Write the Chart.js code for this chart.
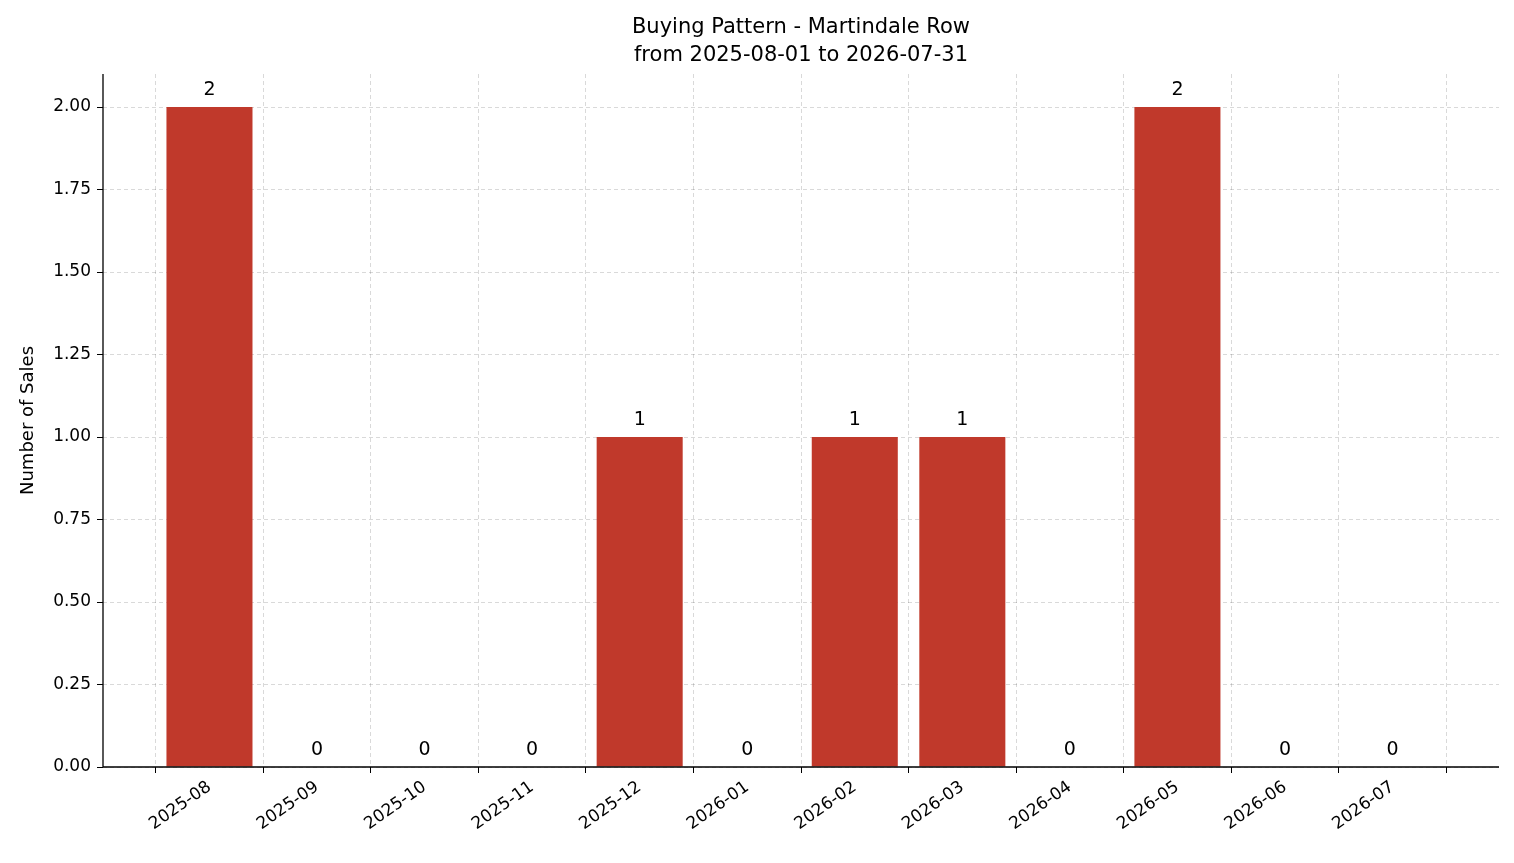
<!DOCTYPE html>
<html><head><meta charset="utf-8">
<script src="https://cdn.jsdelivr.net/npm/chart.js@4/dist/chart.umd.min.js"></script>
<style>html,body{margin:0;padding:0;background:#fff}</style>
</head><body>
<canvas id="c" width="1514" height="863"></canvas>
<script>
const months = ["2025-08","2025-09","2025-10","2025-11","2025-12","2026-01","2026-02","2026-03","2026-04","2026-05","2026-06","2026-07"];
const sales = [2,0,0,0,1,0,1,1,0,2,0,0];
const yTicks = [0,0.25,0.5,0.75,1,1.25,1.5,1.75,2];
const FONT = "'DejaVu Sans', sans-serif";

const overlay = {
  id:'overlay',
  afterDatasetsDraw(chart){
    const ctx = chart.ctx, xs = chart.scales.x, ys = chart.scales.y, a = chart.chartArea;
    ctx.save();
    ctx.fillStyle = '#000';
    ctx.font = '19px ' + FONT;
    ctx.textAlign = 'center'; ctx.textBaseline = 'bottom';
    sales.forEach((v,i)=>{ ctx.fillText(String(v), xs.getPixelForValue(i), ys.getPixelForValue(v)-7); });
    ctx.font = '21px ' + FONT;
    ctx.textBaseline = 'alphabetic';
    ctx.fillText('Buying Pattern - Martindale Row', (a.left+a.right)/2, 33);
    ctx.fillText('from 2025-08-01 to 2026-07-31', (a.left+a.right)/2, 61);
    ctx.strokeStyle = '#000'; ctx.lineWidth = 1.3;
    ctx.beginPath(); ctx.moveTo(a.left, a.top); ctx.lineTo(a.left, a.bottom); ctx.lineTo(a.right, a.bottom); ctx.stroke();
    ctx.translate(28, (a.top+a.bottom)/2); ctx.rotate(-Math.PI/2);
    ctx.font = '18px ' + FONT; ctx.textBaseline='middle';
    ctx.fillText('Number of Sales', 0, 0);
    ctx.restore();
  }
};

new Chart(document.getElementById('c'), {
  type:'bar',
  data:{datasets:[{data:sales.map((v,i)=>({x:i,y:v})), backgroundColor:'#c0392b', barPercentage:0.8, categoryPercentage:1}]},
  options:{
    responsive:false, animation:false, devicePixelRatio:1,
    layout:{padding:{top:74,right:15,left:0,bottom:0}},
    plugins:{legend:{display:false}, tooltip:{enabled:false}},
    scales:{
      x:{type:'linear', min:-0.99, max:11.99, offset:false,
        afterBuildTicks(s){ s.ticks = months.map((m,i)=>({value:i})); },
        afterFit(s){ s.height = 96; },
        ticks:{autoSkip:false, minRotation:35, maxRotation:35, color:'#000', font:{size:17, family:FONT}, padding:4,
          callback:(v)=>months[v]},
        grid:{color:'rgba(0,0,0,0.15)', tickColor:'#000', tickLength:6, drawTicks:true},
        border:{display:false, dash:[4,3]}
      },
      y:{min:0, max:2.1,
        afterBuildTicks(s){ s.ticks = yTicks.map(v=>({value:v})); },
        afterFit(s){ s.width = 103; },
        ticks:{color:'#000', font:{size:17, family:FONT}, callback:v=>v.toFixed(2), padding:6},
        grid:{color:'rgba(0,0,0,0.15)', tickColor:'#000', tickLength:6},
        border:{display:false, dash:[4,3]}
      }
    }
  },
  plugins:[overlay]
});
</script>
</body></html>
